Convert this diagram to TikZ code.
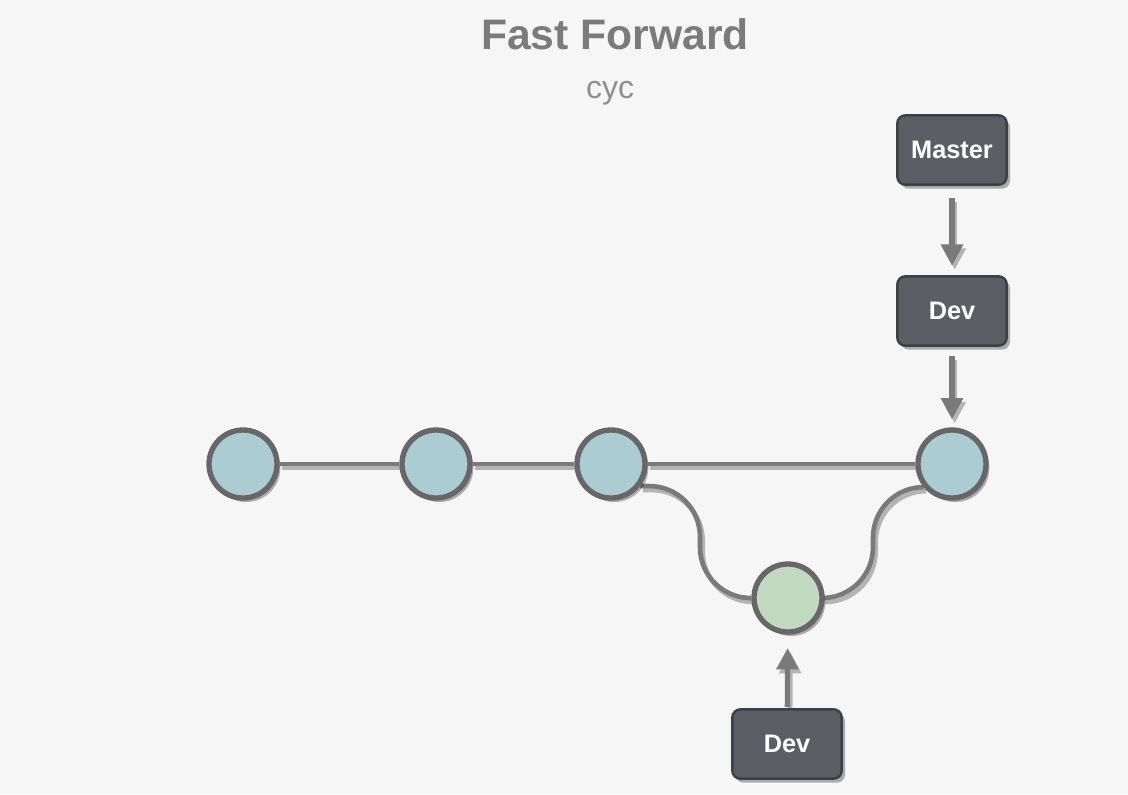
\documentclass[tikz,border=0pt]{standalone}
\usepackage{fontspec}
\setmainfont{Liberation Sans}
\usetikzlibrary{arrows.meta,shadows}
\definecolor{bgcol}{HTML}{F6F6F6}
\definecolor{titlecol}{HTML}{7B7B7B}
\definecolor{ringcol}{HTML}{676767}
\definecolor{linecol}{HTML}{7A7A7A}
\definecolor{shadowcol}{HTML}{B4B4B4}
\definecolor{commitcol}{HTML}{ACCCD4}
\definecolor{newcol}{HTML}{C0D9BF}
\definecolor{refcol}{HTML}{5C5E66}
\definecolor{refborder}{HTML}{3E3F43}
\pgfdeclarelayer{bgfill}
\pgfdeclarelayer{bg}
\pgfsetlayers{bgfill,bg,main}
\tikzstyle{commit}=[draw=ringcol,fill=commitcol,circle,line width=4pt,minimum size=51pt,inner sep=0pt,
  drop shadow={shadow xshift=2.5pt,shadow yshift=-3pt,opacity=.3,fill=black}]
\tikzstyle{newcommit}=[commit,fill=newcol]
\tikzstyle{ref}=[draw=refborder,fill=refcol,rounded corners=6pt,line width=1.8pt,minimum width=82pt,minimum height=52pt,
  text=white,font=\fontsize{19}{22}\selectfont\bfseries,
  drop shadow={shadow xshift=2.5pt,shadow yshift=-3pt,opacity=.3,fill=black}]
\tikzstyle{link}=[draw=linecol,line width=3.5pt]
\tikzstyle{pointer}=[draw=linecol,line width=3.8pt,-{Triangle[width=16pt,length=16pt]}]
\newcommand{\drawlinks}[1]{
  \draw[link,#1] (c1) -- (c2);
  \draw[link,#1] (c2) -- (c3);
  \draw[link,#1] (c3) -- (c4);
  \draw[link,#1,rounded corners=38pt] (c3.-37) -| (700,598) -- (c5.west);
  \draw[link,#1,rounded corners=38pt] (c4.-141) -| (873,598) -- (c5.east);
  \draw[pointer,#1,shorten <=9pt,shorten >=7pt] (master) -- (dev);
  \draw[pointer,#1,shorten <=7pt,shorten >=6pt] (dev) -- (c4);
  \draw[pointer,#1,shorten <=1pt,shorten >=10pt] (devold) -- (c5);
}

\begin{document}
\begin{tikzpicture}[x=0.75pt,y=-0.75pt]
\begin{pgfonlayer}{bgfill}
\fill[bgcol] (0,0) rectangle (1128,794);
\end{pgfonlayer}

\node[text=titlecol,font=\fontsize{32}{38}\selectfont\bfseries] (title) at (615,34) {Fast Forward};
\node[text=titlecol!85,font=\fontsize{24}{28}\selectfont] (author) at (610,93) {cyc};

% commits
\node[commit] (c1) at (243,464) {};
\node[commit] (c2) at (436,464) {};
\node[commit] (c3) at (611,464) {};
\node[commit] (c4) at (952,464) {};
\node[newcommit] (c5) at (788,598) {};

% branch labels
\node[ref] (master) at (952,150) {Master};
\node[ref] (dev) at (952,311) {Dev};
\node[ref] (devold) at (787,744) {Dev};

\begin{pgfonlayer}{bg}
\begin{scope}[transform canvas={shift={(2pt,-3pt)}}]
\drawlinks{draw=shadowcol}
\end{scope}
\drawlinks{}
\end{pgfonlayer}
\end{tikzpicture}
\end{document}
